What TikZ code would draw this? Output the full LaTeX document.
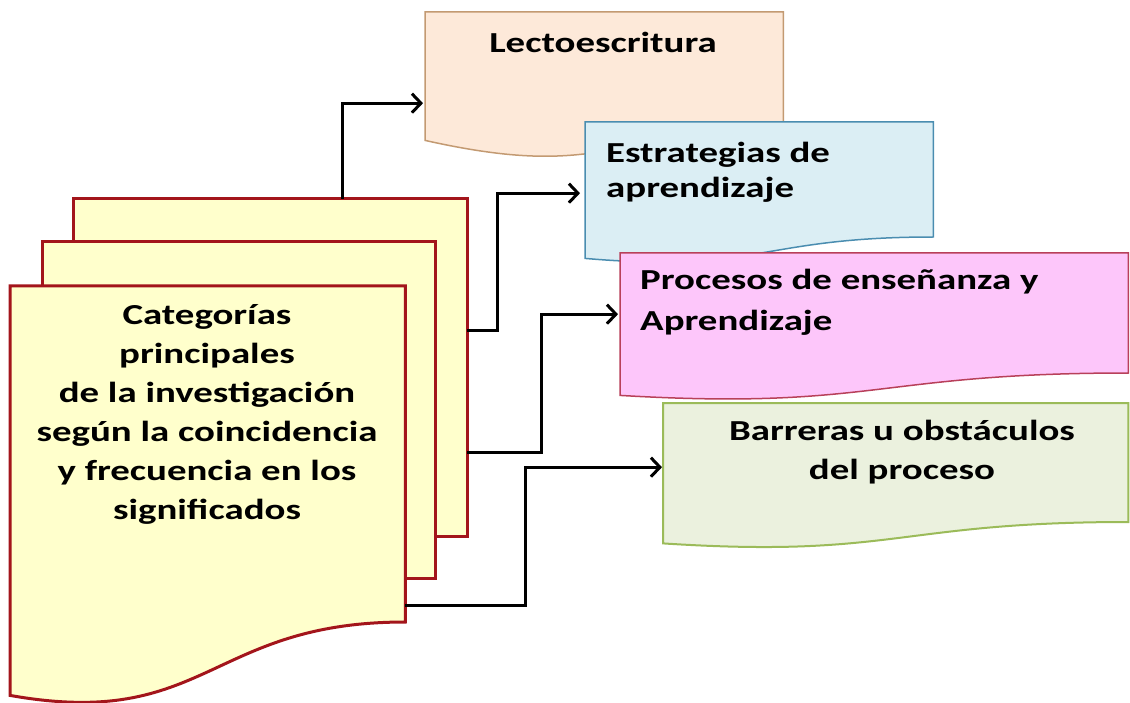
\documentclass[tikz,border=0pt]{standalone}
\usepackage{fontspec}
\setmainfont{Carlito}[FakeStretch=1.34]
\usetikzlibrary{arrows.meta}
\definecolor{ylfill}{HTML}{FFFFCC}
\definecolor{ylline}{HTML}{A3151B}
\definecolor{lcfill}{HTML}{FDE9D9}
\definecolor{lcline}{HTML}{C39A72}
\definecolor{blfill}{HTML}{DBEEF4}
\definecolor{blline}{HTML}{4A8DB0}
\definecolor{pkfill}{HTML}{FDC6FA}
\definecolor{pkline}{HTML}{B8405A}
\definecolor{grfill}{HTML}{EBF1DE}
\definecolor{grline}{HTML}{9BBB59}
\tikzset{
  frame/.style={inner sep=0pt, anchor=north west, draw=none},
  sheet/.style={fill=ylfill, draw=ylline, line width=3pt},
  lbl/.style={font=\fontsize{29}{35}\selectfont\bfseries, inner sep=0pt},
  arr/.style={line width=3pt, -{Straight Barb[length=9pt,width=19pt]}},
}
\begin{document}
\begin{tikzpicture}[x=1pt,y=-1pt]
\useasboundingbox (0,0) rectangle (1130,703);
% --- right boxes ---
\node[frame, minimum width=358pt, minimum height=128pt] (lecto) at (425,12) {};
\draw[fill=lcfill, draw=lcline, line width=1.5pt] (lecto.north west) -- (lecto.north east) -- ++(0,120)
  .. controls ++(-179,0) and ([xshift=179pt,yshift=-40pt]lecto.south west) .. (lecto.south west) -- cycle;
\node[lbl] (lectot) at (603,42) {Lectoescritura};

\node[frame, minimum width=348pt, minimum height=136pt] (blue) at (585,122) {};
\draw[fill=blfill, draw=blline, line width=1.5pt] (blue.north west) -- (blue.north east) -- ++(0,115)
  .. controls ++(-174,0) and ([xshift=174pt,yshift=-15pt]blue.south west) .. (blue.south west) -- cycle;
\node[lbl, anchor=west, align=left] (bluet) at (606,172) {Estrategias de\\aprendizaje};

\node[frame, minimum width=508pt, minimum height=142pt] (pink) at (620,253) {};
\draw[fill=pkfill, draw=pkline, line width=1.5pt] (pink.north west) -- (pink.north east) -- ++(0,120)
  .. controls ++(-254,0) and ([xshift=254pt,yshift=-15pt]pink.south west) .. (pink.south west) -- cycle;
\node[lbl, anchor=west, align=left, font=\fontsize{29}{41}\selectfont\bfseries] (pinkt) at (640,302) {Procesos de enseñanza y\\Aprendizaje};

\node[frame, minimum width=465pt, minimum height=140pt] (green) at (663,403) {};
\draw[fill=grfill, draw=grline, line width=2pt] (green.north west) -- (green.north east) -- ++(0,119)
  .. controls ++(-232,0) and ([xshift=232pt,yshift=-15pt]green.south west) .. (green.south west) -- cycle;
\node[lbl, align=center, font=\fontsize{29}{39}\selectfont\bfseries] (greent) at (902,452) {Barreras u obstáculos\\del proceso};

% --- stacked sheets ---
\node[frame, minimum width=394pt, minimum height=337pt] (back) at (73,199) {};
\draw[sheet] (back.north west) rectangle (back.south east);
\node[frame, minimum width=393pt, minimum height=336pt] (mid) at (42,242) {};
\draw[sheet] (mid.north west) rectangle (mid.south east);
\node[frame, minimum width=395pt, minimum height=409pt] (front) at (10,286) {};
\draw[sheet] (front.north west) -- (front.north east) -- ++(0,336)
  .. controls ++(-197,0) and ([xshift=197pt,yshift=-35pt]front.south west) .. (front.south west) -- cycle;
\node[lbl, align=center, font=\fontsize{29}{39}\selectfont\bfseries] (frontt) at (207,414)
  {Categorías\\principales\\de la investigación\\según la coincidencia\\y frecuencia en los\\significados};

% --- connectors ---
\draw[arr, shorten >=2pt] ([xshift=72pt]back.north) |- ([yshift=-27pt]lecto.west);
\draw[arr, shorten >=5pt] ([yshift=37.5pt]back.east) -- ++(30,0) |- ([yshift=-3pt]blue.west);
\draw[arr, shorten >=2pt] ([yshift=-84.5pt]back.east) -- ++(74,0) |- ([yshift=10pt]pink.west);
\draw[arr, shorten >=1pt] ([yshift=-114.5pt]front.east) -- ++(120,0) |- ([yshift=6pt]green.west);
\end{tikzpicture}
\end{document}
